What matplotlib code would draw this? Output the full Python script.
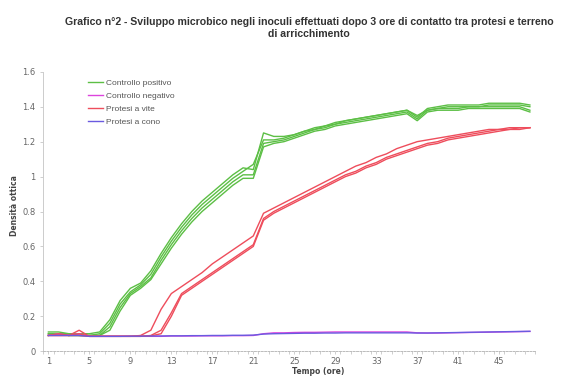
import numpy as np
from matplotlib import pyplot as plt

# Hours (categories on the x axis)
ore = list(range(1, 49))
tick_labels = [str(h) for h in range(1, 49, 4)]

# Controllo positivo - four replicates
pos_1 = [0.11, 0.11, 0.10, 0.10, 0.10, 0.11, 0.18, 0.29, 0.36, 0.39, 0.46, 0.56,
         0.65, 0.73, 0.80, 0.86, 0.91, 0.96, 1.01, 1.05, 1.04, 1.25, 1.23, 1.23,
         1.24, 1.26, 1.28, 1.29, 1.31, 1.32, 1.33, 1.34, 1.35, 1.36, 1.37, 1.38,
         1.34, 1.39, 1.40, 1.41, 1.41, 1.41, 1.41, 1.42, 1.42, 1.42, 1.42, 1.41]
pos_2 = [0.10, 0.10, 0.10, 0.09, 0.09, 0.10, 0.16, 0.27, 0.34, 0.38, 0.44, 0.54,
         0.63, 0.71, 0.78, 0.84, 0.89, 0.94, 0.99, 1.03, 1.07, 1.21, 1.21, 1.22,
         1.24, 1.26, 1.27, 1.29, 1.30, 1.32, 1.33, 1.34, 1.35, 1.36, 1.37, 1.38,
         1.35, 1.38, 1.39, 1.40, 1.40, 1.40, 1.40, 1.41, 1.41, 1.41, 1.41, 1.40]
pos_3 = [0.10, 0.10, 0.09, 0.09, 0.09, 0.09, 0.14, 0.25, 0.33, 0.37, 0.42, 0.52,
         0.61, 0.69, 0.76, 0.82, 0.87, 0.92, 0.97, 1.01, 1.01, 1.19, 1.20, 1.21,
         1.23, 1.25, 1.27, 1.28, 1.30, 1.31, 1.32, 1.33, 1.34, 1.35, 1.36, 1.37,
         1.33, 1.38, 1.39, 1.39, 1.39, 1.40, 1.40, 1.40, 1.40, 1.40, 1.40, 1.38]
pos_4 = [0.09, 0.10, 0.09, 0.09, 0.09, 0.09, 0.12, 0.23, 0.32, 0.36, 0.41, 0.50,
         0.59, 0.67, 0.74, 0.80, 0.85, 0.90, 0.95, 0.99, 0.99, 1.17, 1.19, 1.20,
         1.22, 1.24, 1.26, 1.27, 1.29, 1.30, 1.31, 1.32, 1.33, 1.34, 1.35, 1.36,
         1.32, 1.37, 1.38, 1.38, 1.38, 1.39, 1.39, 1.39, 1.39, 1.39, 1.39, 1.37]

# Controllo negativo
neg = [0.09, 0.10, 0.09, 0.10, 0.085, 0.085, 0.085, 0.085, 0.085, 0.085, 0.085, 0.085,
       0.087, 0.087, 0.087, 0.088, 0.088, 0.088, 0.089, 0.089, 0.09, 0.10, 0.105, 0.105,
       0.107, 0.108, 0.108, 0.109, 0.110, 0.110, 0.110, 0.110, 0.110, 0.110, 0.110, 0.110,
       0.105, 0.104, 0.104, 0.105, 0.106, 0.107, 0.108, 0.109, 0.110, 0.111, 0.112, 0.113]

# Protesi a vite - three replicates
vite_1 = [0.09, 0.10, 0.09, 0.12, 0.085, 0.085, 0.085, 0.085, 0.085, 0.09, 0.12, 0.24,
          0.33, 0.37, 0.41, 0.45, 0.50, 0.54, 0.58, 0.62, 0.66, 0.79, 0.82, 0.85,
          0.88, 0.91, 0.94, 0.97, 1.00, 1.03, 1.06, 1.08, 1.11, 1.13, 1.16, 1.18,
          1.20, 1.21, 1.22, 1.23, 1.24, 1.25, 1.26, 1.27, 1.27, 1.28, 1.28, 1.28]
vite_2 = [0.09, 0.09, 0.09, 0.10, 0.085, 0.085, 0.085, 0.085, 0.085, 0.085, 0.09, 0.12,
          0.22, 0.33, 0.37, 0.41, 0.45, 0.49, 0.53, 0.57, 0.61, 0.76, 0.80, 0.83,
          0.86, 0.89, 0.92, 0.95, 0.98, 1.01, 1.03, 1.06, 1.08, 1.11, 1.13, 1.15,
          1.17, 1.19, 1.20, 1.22, 1.23, 1.24, 1.25, 1.26, 1.27, 1.27, 1.28, 1.28]
vite_3 = [0.09, 0.09, 0.09, 0.09, 0.085, 0.085, 0.085, 0.085, 0.085, 0.085, 0.088, 0.10,
          0.20, 0.32, 0.36, 0.40, 0.44, 0.48, 0.52, 0.56, 0.60, 0.75, 0.79, 0.82,
          0.85, 0.88, 0.91, 0.94, 0.97, 1.00, 1.02, 1.05, 1.07, 1.10, 1.12, 1.14,
          1.16, 1.18, 1.19, 1.21, 1.22, 1.23, 1.24, 1.25, 1.26, 1.27, 1.27, 1.28]

# Protesi a cono
cono = [0.09, 0.09, 0.09, 0.09, 0.085, 0.085, 0.085, 0.085, 0.086, 0.086, 0.087, 0.087,
        0.088, 0.088, 0.089, 0.089, 0.090, 0.090, 0.091, 0.091, 0.092, 0.098, 0.100, 0.101,
        0.102, 0.103, 0.103, 0.104, 0.104, 0.105, 0.105, 0.105, 0.105, 0.105, 0.105, 0.105,
        0.104, 0.104, 0.105, 0.106, 0.107, 0.108, 0.109, 0.110, 0.111, 0.112, 0.113, 0.114]

GREEN = '#5cbf45'
MAGENTA = '#dd44dd'
RED = '#ee4d5c'
BLUE = '#6a5ae0'
GREY = '#666666'

fig = plt.figure(figsize=(5.62, 3.76), dpi=100)
ax = fig.add_axes([0.077, 0.066, 0.875, 0.743])
plt.rcParams['font.family'] = ['Liberation Sans', 'DejaVu Sans']

# Draw series
for i, s in enumerate([pos_1, pos_2, pos_3, pos_4]):
    ax.plot(ore, s, c=GREEN, lw=1.0, label='Controllo positivo' if i == 0 else '_nolegend_')
ax.plot(ore, neg, c=MAGENTA, lw=1.0, label='Controllo negativo')
for i, s in enumerate([vite_1, vite_2, vite_3]):
    ax.plot(ore, s, c=RED, lw=1.0, label='Protesi a vite' if i == 0 else '_nolegend_')
ax.plot(ore, cono, c=BLUE, lw=1.0, label='Protesi a cono')

# Axes formatting
ax.set_xlim(0.5, 48.5)
ax.set_ylim(0, 1.6)
ax.set_xticks(range(1, 49, 4))
ax.set_xticklabels(tick_labels)
ax.set_xticks(np.arange(0.5, 49, 1), minor=True)
ax.set_yticks([0, 0.2, 0.4, 0.6, 0.8, 1.0, 1.2, 1.4, 1.6])
ax.set_yticklabels(['0', '0.2', '0.4', '0.6', '0.8', '1', '1.2', '1.4', '1.6'])
ax.tick_params(axis='both', which='major', labelsize=6, colors=GREY, length=2, width=0.5)
ax.tick_params(axis='x', which='minor', length=2, width=0.5, color='#bbbbbb')
ax.tick_params(axis='x', which='major', color='#bbbbbb', pad=2)
ax.tick_params(axis='y', color='#bbbbbb')

for side in ['top', 'right']:
    ax.spines[side].set_visible(False)
ax.spines['left'].set_color('#cccccc')
ax.spines['left'].set_linewidth(0.7)
ax.spines['bottom'].set_color('#bbbbbb')
ax.spines['bottom'].set_linewidth(0.7)
ax.spines['bottom'].set_linestyle((0, (2, 1.5)))

ax.set_ylabel('Densità ottica', fontsize=5.5, color='#444444', fontweight='bold', labelpad=10)
ax.yaxis.set_label_coords(-0.05, 0.52)
ax.set_xlabel('Tempo (ore)', fontsize=5.5, color='#444444', fontweight='bold')
ax.xaxis.set_label_coords(0.56, -0.056)

fig.text(0.55, 0.955, "Grafico n°2 - Sviluppo microbico negli inoculi effettuati dopo 3 ore di contatto tra protesi e terreno\ndi arricchimento",
         ha='center', va='top', fontsize=7.6, color='#333333', fontweight='bold', linespacing=1.25)

leg = ax.legend(loc='upper left', bbox_to_anchor=(0.075, 1.0), frameon=False, fontsize=6,
                handlelength=1.9, handletextpad=0.3, labelspacing=0.62)
for t in leg.get_texts():
    t.set_color('#555555')

plt.savefig('out.png', dpi=100)
